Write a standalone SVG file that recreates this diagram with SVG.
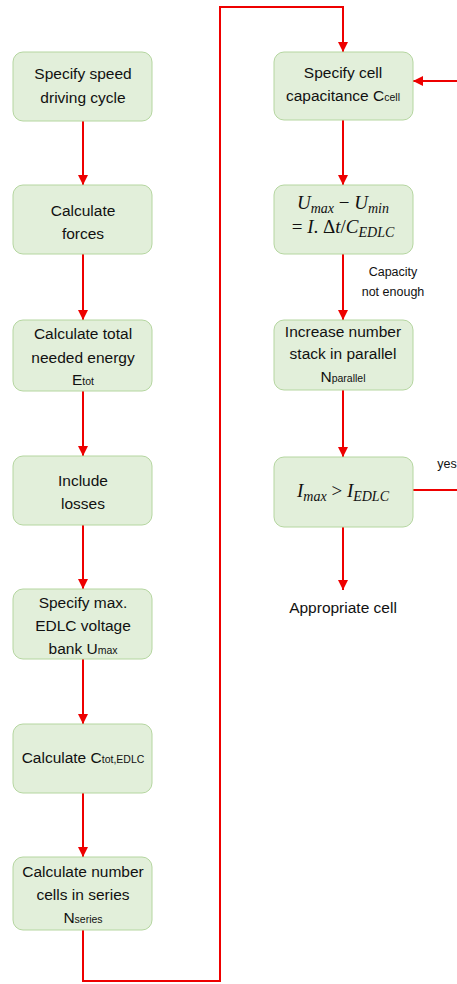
<svg xmlns="http://www.w3.org/2000/svg" width="457" height="984" viewBox="0 0 457 984">
<style>
.box{fill:#e2efda;stroke:#b5d6a0;stroke-width:1}
.t{font-family:"Liberation Sans",Arial,sans-serif;font-size:15.5px;fill:#111;text-anchor:middle}
.s{font-size:10.5px}
.m{font-family:"Liberation Serif","Times New Roman",serif;font-style:italic;font-size:19px;fill:#111;text-anchor:middle}
.ms{font-size:14px}
.lbl{font-family:"Liberation Sans",Arial,sans-serif;font-size:12.5px;fill:#111;text-anchor:middle}
.c{fill:none;stroke:#ee0000;stroke-width:2}
</style>
<defs>
<marker id="ah" viewBox="0 0 10 10" refX="10" refY="5" markerWidth="10" markerHeight="10" markerUnits="userSpaceOnUse" orient="auto">
<path d="M0,0 L10,5 L0,10 z" fill="#ee0000"/>
</marker>
</defs>
<g id="connectors">
<line class="c" x1="83" y1="121" x2="83" y2="185" marker-end="url(#ah)"/>
<line class="c" x1="83" y1="254" x2="83" y2="320" marker-end="url(#ah)"/>
<line class="c" x1="83" y1="391" x2="83" y2="456" marker-end="url(#ah)"/>
<line class="c" x1="83" y1="525" x2="83" y2="589" marker-end="url(#ah)"/>
<line class="c" x1="83" y1="659" x2="83" y2="724" marker-end="url(#ah)"/>
<line class="c" x1="83" y1="793" x2="83" y2="857" marker-end="url(#ah)"/>
<polyline class="c" points="83,930 83,981 220,981 220,7 343,7 343,52" marker-end="url(#ah)"/>
<line class="c" x1="343" y1="120" x2="343" y2="185" marker-end="url(#ah)"/>
<line class="c" x1="343" y1="254" x2="343" y2="320" marker-end="url(#ah)"/>
<line class="c" x1="343" y1="390" x2="343" y2="457" marker-end="url(#ah)"/>
<line class="c" x1="343" y1="527" x2="343" y2="590" marker-end="url(#ah)"/>
<line class="c" x1="413" y1="490" x2="457" y2="490"/>
<line class="c" x1="457" y1="81" x2="413" y2="81" marker-end="url(#ah)"/>
<text class="lbl" x="393" y="276">Capacity</text>
<text class="lbl" x="393" y="296">not enough</text>
<text class="lbl" x="447" y="468">yes</text>
</g>
<g id="n1"><rect class="box" x="13" y="52" width="139" height="69" rx="10"/>
<text class="t" x="83" y="79">Specify speed</text><text class="t" x="83" y="103">driving cycle</text></g>
<g id="n2"><rect class="box" x="13" y="185" width="139" height="69" rx="10"/>
<text class="t" x="83" y="216">Calculate</text><text class="t" x="83" y="239">forces</text></g>
<g id="n3"><rect class="box" x="13" y="320" width="139" height="71" rx="10"/>
<text class="t" x="83" y="339">Calculate total</text><text class="t" x="83" y="363">needed energy</text><text class="t" x="83" y="385">E<tspan class="s">tot</tspan></text></g>
<g id="n4"><rect class="box" x="13" y="456" width="139" height="69" rx="10"/>
<text class="t" x="83" y="486">Include</text><text class="t" x="83" y="509">losses</text></g>
<g id="n5"><rect class="box" x="13" y="589" width="139" height="70" rx="10"/>
<text class="t" x="83" y="608">Specify max.</text><text class="t" x="83" y="631">EDLC voltage</text><text class="t" x="83" y="654">bank U<tspan class="s">max</tspan></text></g>
<g id="n6"><rect class="box" x="13" y="724" width="139" height="69" rx="10"/>
<text class="t" x="83" y="763">Calculate C<tspan class="s">tot,EDLC</tspan></text></g>
<g id="n7"><rect class="box" x="13" y="857" width="139" height="73" rx="10"/>
<text class="t" x="83" y="877">Calculate number</text><text class="t" x="83" y="900">cells in series</text><text class="t" x="83" y="923">N<tspan class="s">series</tspan></text></g>
<g id="r1"><rect class="box" x="274" y="52" width="139" height="68" rx="10"/>
<text class="t" x="343" y="78">Specify cell</text><text class="t" x="343" y="101">capacitance C<tspan class="s">cell</tspan></text></g>
<g id="r2"><rect class="box" x="274" y="185" width="139" height="69" rx="10"/>
<text class="m" x="343" y="209">U<tspan class="ms" dy="4">max</tspan><tspan dy="-4" font-style="normal"> − </tspan>U<tspan class="ms" dy="4">min</tspan></text>
<text class="m" x="343" y="233"><tspan font-style="normal">= </tspan>I<tspan font-style="normal">. Δ</tspan>t<tspan font-style="normal">/</tspan>C<tspan class="ms" dy="4">EDLC</tspan></text></g>
<g id="r3"><rect class="box" x="274" y="320" width="139" height="70" rx="10"/>
<text class="t" x="343" y="337">Increase number</text><text class="t" x="343" y="359">stack in parallel</text><text class="t" x="343" y="382">N<tspan class="s">parallel</tspan></text></g>
<g id="r4"><rect class="box" x="274" y="457" width="139" height="70" rx="10"/>
<text class="m" x="343" y="497">I<tspan class="ms" dy="4">max</tspan><tspan dy="-4" font-style="normal"> &gt; </tspan>I<tspan class="ms" dy="4">EDLC</tspan></text></g>
<g id="end"><text class="t" x="343" y="613">Appropriate cell</text></g>
</svg>
